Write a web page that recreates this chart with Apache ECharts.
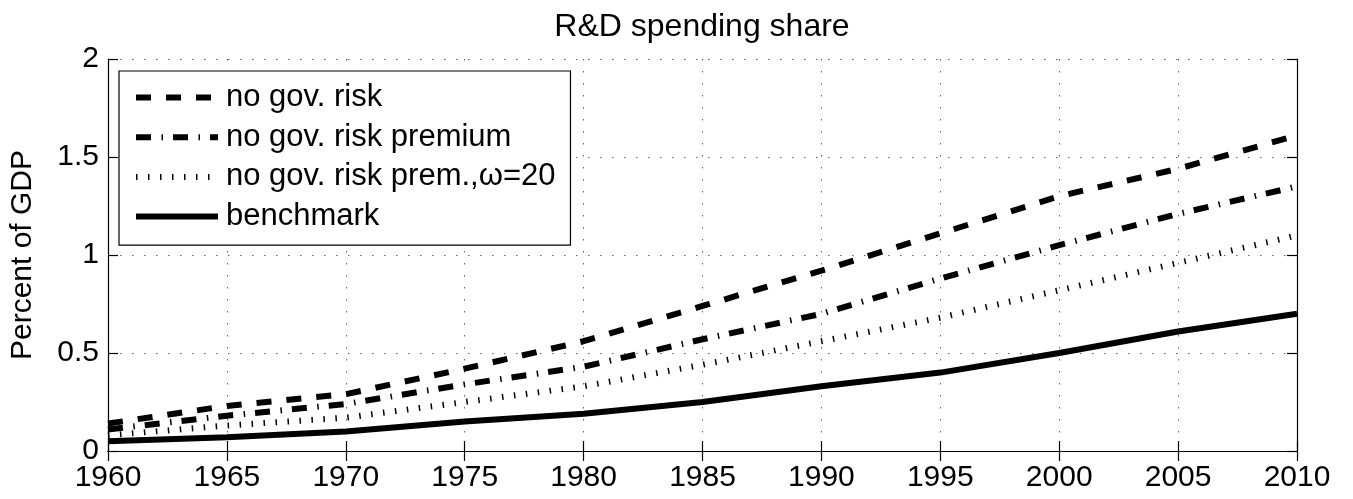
<!DOCTYPE html>
<html>
<head>
<meta charset="utf-8">
<script src="https://cdn.jsdelivr.net/npm/echarts@6/dist/echarts.min.js"></script>
<style>
  html, body { margin: 0; padding: 0; background: #fff; }
  #chart { width: 1353px; height: 499px; }
</style>
</head>
<body>
<div id="chart"></div>
<script>
// years on the x axis
const years = [1960, 1965, 1970, 1975, 1980, 1985, 1990, 1995, 2000, 2005, 2010]
// series values, percent of GDP
const noGovRisk = [0.14, 0.23, 0.29, 0.42, 0.56, 0.74, 0.92, 1.11, 1.30, 1.44, 1.61]
const noGovRiskPremium = [0.11, 0.18, 0.24, 0.34, 0.43, 0.57, 0.70, 0.88, 1.05, 1.21, 1.35]
const noGovRiskPremW20 = [0.08, 0.13, 0.17, 0.25, 0.33, 0.44, 0.56, 0.68, 0.82, 0.96, 1.10]
const benchmark = [0.05, 0.07, 0.10, 0.15, 0.19, 0.25, 0.33, 0.40, 0.50, 0.61, 0.70]
const seriesNames = ['no gov. risk', 'no gov. risk premium', 'no gov. risk prem.,ω=20', 'benchmark']

const FONT = 'Liberation Sans, Arial, sans-serif'
const pairs = (vals) => years.map((y, i) => [y, vals[i]])

const chart = echarts.init(document.getElementById('chart'))

// one line series, dash pattern passed in
const makeLine = (name, vals, dash) => ({
	name: name,
	type: 'line',
	data: pairs(vals),
	showSymbol: false,
	symbol: 'none',
	xAxisIndex: 0,
	yAxisIndex: 0,
	lineStyle: { color: '#000', width: 6, type: dash, cap: 'butt' },
	itemStyle: { color: '#000' },
	z: 3
})

const axisBase = {
	type: 'value',
	axisLine: { show: true, lineStyle: { color: '#000', width: 1.2 } },
	axisTick: { show: true, inside: true, length: 10, lineStyle: { color: '#000', width: 1.2 } }
}

const option = {
	animation: false,
	backgroundColor: '#fff',
	title: {
		text: 'R&D spending share',
		left: 697,
		textAlign: 'center',
		top: 6,
		textStyle: { fontFamily: FONT, fontSize: 32, fontWeight: 'normal', color: '#000' }
	},
	grid: { left: 106, right: 56, top: 59, bottom: 48 },
	legend: {
		data: seriesNames,
		orient: 'vertical',
		left: 119,
		top: 71,
		itemWidth: 82,
		itemHeight: 30,
		itemGap: 8.7,
		padding: [11, 15, 13, 14],
		backgroundColor: '#fff',
		borderColor: '#000',
		borderWidth: 1.2,
		borderRadius: 0,
		itemStyle: { opacity: 0 },
		lineStyle: { width: 6 },
		textStyle: { fontFamily: FONT, fontSize: 31, lineHeight: 30, color: '#000', padding: [0, 0, 0, 3] }
	},
	xAxis: [
		Object.assign({}, axisBase, {
			position: 'bottom',
			min: 1960,
			max: 2010,
			interval: 5,
			axisLabel: { fontFamily: FONT, fontSize: 30, color: '#000', margin: 12, formatter: (v) => String(v) },
			splitLine: { show: true, lineStyle: { color: '#666', width: 1, type: [1.5, 10.5] } }
		}),
		Object.assign({}, axisBase, {
			position: 'top',
			min: 1960,
			max: 2010,
			interval: 5,
			axisLabel: { show: false },
			splitLine: { show: false }
		})
	],
	yAxis: [
		Object.assign({}, axisBase, {
			position: 'left',
			min: 0,
			max: 2,
			interval: 0.5,
			name: 'Percent of GDP',
			nameLocation: 'middle',
			nameGap: 70,
			nameTextStyle: { fontFamily: FONT, fontSize: 30, color: '#000' },
			axisLabel: { fontFamily: FONT, fontSize: 30, color: '#000', margin: 9 },
			splitLine: { show: true, lineStyle: { color: '#666', width: 1, type: [1.5, 10.5] } }
		}),
		Object.assign({}, axisBase, {
			position: 'right',
			min: 0,
			max: 2,
			interval: 0.5,
			axisLabel: { show: false },
			splitLine: { show: false }
		})
	],
	series: [
		makeLine(seriesNames[0], noGovRisk, [15, 15]),
		makeLine(seriesNames[1], noGovRiskPremium, [15, 10.5, 1.5, 10]),
		makeLine(seriesNames[2], noGovRiskPremW20, [1.5, 10.5]),
		makeLine(seriesNames[3], benchmark, 'solid')
	]
}

chart.setOption(option)
</script>
</body>
</html>
